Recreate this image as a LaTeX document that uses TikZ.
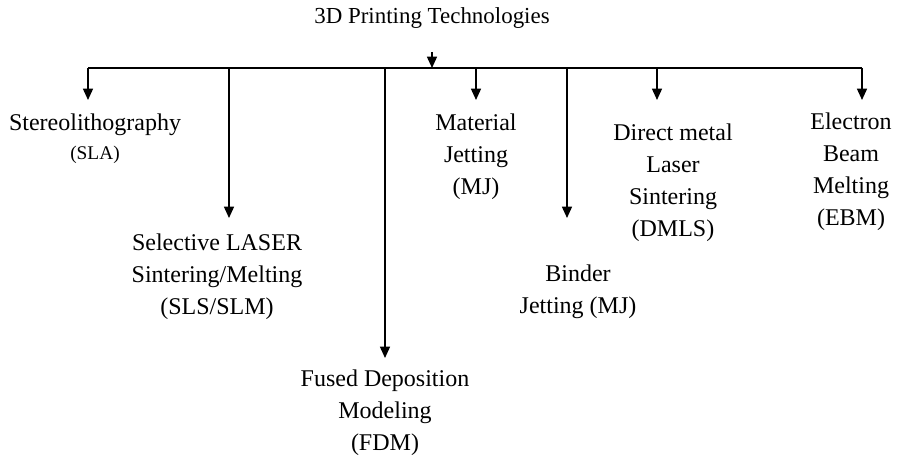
\documentclass[tikz,border=0pt]{standalone}
\usepackage{fontspec}
\setmainfont{Liberation Serif}
\usepackage{tikz}
\usetikzlibrary{arrows.meta}

\begin{document}
\begin{tikzpicture}[x=0.75pt, y=-0.75pt,
  tech/.style={align=center, inner sep=0pt, font=\fontsize{18}{24}\selectfont},
  branch/.style={line width=1.1pt, -{Triangle[length=8.5pt, width=7.5pt]}}]
\useasboundingbox (0,0) rectangle (899,459);
% root and the bus under it
\node[inner sep=0pt, font=\fontsize{17.2}{20}\selectfont] (root) at (432,18) {3D Printing Technologies};
\coordinate (drop) at (432,52);
\coordinate (busL) at (88,68);
\coordinate (busR) at (862,68);
\coordinate (busM) at (432,68);
\draw[line width=1.1pt] (busL) -- (busR);
\draw[branch] (drop) -- (busM);
% technologies
\node[tech] (sla) at (95,139) {Stereolithography\\[-2pt]{\fontsize{14.5}{18}\selectfont(SLA)}};
\node[tech] (sls) at (217,277) {Selective LASER\\Sintering/Melting\\(SLS/SLM)};
\node[tech] (fdm) at (385,413) {Fused Deposition\\Modeling\\(FDM)};
\node[tech] (mj) at (476,157) {Material\\Jetting\\(MJ)};
\node[tech] (bj) at (578,292) {Binder\\Jetting (MJ)};
\node[tech] (dmls) at (673,183) {Direct metal\\Laser\\Sintering\\(DMLS)};
\node[tech] (ebm) at (851,172) {Electron\\Beam\\Melting\\(EBM)};
% branch arrows: start on the bus, stop a little above each label
\coordinate (slaT) at (88,100);   \coordinate (slaB) at (88,68);
\coordinate (slsT) at (229,218);  \coordinate (slsB) at (229,68);
\coordinate (fdmT) at (385,358);  \coordinate (fdmB) at (385,68);
\coordinate (mjT) at (476,100);   \coordinate (mjB) at (476,68);
\coordinate (bjT) at (567,218);   \coordinate (bjB) at (567,68);
\coordinate (dmlsT) at (657,100); \coordinate (dmlsB) at (657,68);
\coordinate (ebmT) at (862,100);  \coordinate (ebmB) at (862,68);
\foreach \t in {sla,sls,fdm,mj,bj,dmls,ebm}
  \draw[branch] (\t B) -- (\t T);
\end{tikzpicture}
\end{document}
